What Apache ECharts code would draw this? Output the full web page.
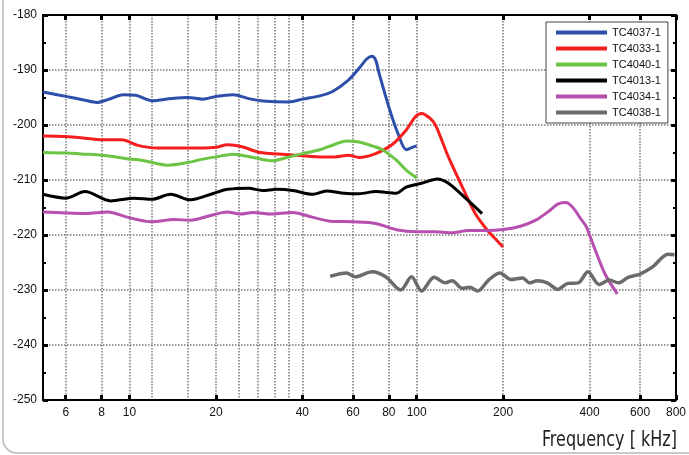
<!DOCTYPE html>
<html>
<head>
<meta charset="utf-8">
<script src="https://cdn.jsdelivr.net/npm/echarts@6/dist/echarts.min.js"></script>
<style>html,body{margin:0;padding:0;background:#fff;}#c{width:689px;height:455px;}</style>
</head>
<body>
<div id="c"></div>
<script>
// Tick values
const xMajorTicks = [6, 8, 10, 20, 40, 60, 80, 100, 200, 400, 600, 800];
const xMinorGrid = [12, 16, 24, 28, 32, 36];
const yMin = -250, yMax = -180, yStep = 10;
const xMin = 5, xMax = 800;

const seriesNames = ['TC4037-1', 'TC4033-1', 'TC4040-1', 'TC4013-1', 'TC4034-1', 'TC4038-1'];
const seriesColors = ['#2e4fa9', '#f51e1e', '#6cc444', '#000000', '#b64fae', '#6b6b6b'];

const tc4037 = [[5,-194],[6,-194.8],[7,-195.5],[7.7,-195.9],[8.5,-195.3],[9.5,-194.5],[10.5,-194.6],[12,-195.6],[14,-195.2],[16,-195.0],[18,-195.3],[20,-194.8],[23,-194.5],[26,-195.2],[30,-195.7],[36,-195.8],[40,-195.3],[46,-194.7],[51,-193.9],[58,-191.8],[63,-189.7],[67,-188.0],[70,-187.5],[72,-188.2],[74,-190.6],[80,-196.7],[86,-201.5],[92,-204.5],[96,-204.1],[100,-203.8]];
const tc4033 = [[5,-202.0],[6,-202.1],[7,-202.4],[8,-202.7],[9.4,-202.7],[10.7,-203.7],[12.5,-204.2],[16,-204.2],[19.7,-204.1],[22,-203.6],[24.5,-203.9],[28,-204.9],[31,-205.2],[36,-205.4],[46,-205.8],[52,-205.8],[58,-205.5],[63,-205.9],[72,-205.2],[82,-203.6],[92,-200.9],[99,-198.5],[104,-197.9],[112,-198.9],[117,-200.3],[129,-205.8],[144,-211.2],[160,-216.1],[176,-219.1],[188,-220.7],[200,-222.2]];
const tc4040 = [[5,-205.0],[6,-205.1],[7,-205.3],[8,-205.5],[9,-205.8],[10,-206.2],[11,-206.4],[13.6,-207.3],[16,-206.8],[18,-206.2],[20,-205.8],[23,-205.3],[27,-205.9],[31.5,-206.5],[36,-205.8],[40,-205.2],[46,-204.5],[52,-203.5],[57,-202.9],[63,-203.1],[70,-203.8],[76,-204.5],[85,-206.4],[92,-208.2],[100,-209.6]];
const tc4013 = [[5,-212.6],[6,-213.3],[7,-212.1],[8.6,-213.8],[10.4,-213.3],[12,-213.5],[13.9,-212.6],[16.3,-213.6],[19.7,-212.4],[22,-211.7],[26,-211.5],[29,-211.9],[32.6,-211.7],[37,-211.9],[43.6,-212.6],[48.5,-212.0],[56,-212.4],[63,-212.5],[72,-212.1],[85,-212.4],[92,-211.3],[104,-210.6],[118,-209.8],[129,-210.6],[148,-213.3],[169,-216.1]];
const tc4034 = [[5,-215.8],[6,-216.0],[7,-216.1],[8.4,-215.8],[9.9,-216.8],[11.9,-217.6],[14.3,-217.2],[16.3,-217.3],[19,-216.5],[21.9,-215.8],[24.3,-216.2],[27,-215.9],[31,-216.2],[37,-215.9],[43.6,-216.8],[50,-217.5],[60,-217.6],[72,-217.9],[86,-219.1],[100,-219.4],[116,-219.4],[132,-219.6],[152,-219.2],[178,-219.2],[200,-219.0],[230,-218.4],[260,-217.3],[290,-215.6],[310,-214.4],[330,-214.1],[350,-215.0],[370,-216.8],[390,-218.5],[400,-220.0],[452,-227.0],[500,-230.7]];
const tc4038 = [[50,-227.5],[57,-226.9],[61,-227.6],[70,-226.7],[78,-227.6],[88,-230.0],[96,-227.6],[104,-230.2],[115,-227.7],[126,-228.7],[133,-228.3],[144,-229.7],[153,-229.5],[163,-230.2],[178,-228.2],[195,-226.9],[213,-228.1],[234,-227.8],[247,-228.7],[263,-228.3],[285,-228.7],[310,-229.9],[336,-228.8],[365,-228.7],[395,-226.7],[432,-229.0],[469,-228.2],[505,-228.7],[545,-227.7],[600,-227.1],[663,-225.8],[750,-223.5],[790,-223.6]];
const seriesData = [tc4037, tc4033, tc4040, tc4013, tc4034, tc4038];
const seriesWidths = [3, 3, 3, 3, 3, 3.5];

const chart = echarts.init(document.getElementById('c'), null, {renderer: 'canvas'});
const gridLine = {show: true, lineStyle: {color: '#7a7a7a', width: 1.5, type: [1.5, 1.5]}};
const baseX = {type: 'log', logBase: 10, min: xMin, max: xMax};
const labelFont = 'Liberation Sans, Arial, sans-serif';
const option = {
  animation: false,
  backgroundColor: '#fff',
  grid: {left: 43, right: 10, top: 15, bottom: 55, show: true, borderColor: '#000', borderWidth: 2, containLabel: false},
  xAxis: [
    Object.assign({}, baseX, {
      position: 'bottom',
      axisLine: {show: true, onZero: false, lineStyle: {color: '#000', width: 2}},
      axisTick: {show: true, inside: true, length: 5, customValues: xMajorTicks, lineStyle: {color: '#000', width: 3}},
      axisLabel: {show: true, customValues: xMajorTicks, fontSize: 12, color: '#111', margin: 7, fontFamily: labelFont},
      splitLine: gridLine,
      minorTick: {show: false}, minorSplitLine: {show: false}
    }),
    Object.assign({}, baseX, {
      position: 'top',
      axisLine: {show: true, onZero: false, lineStyle: {color: '#000', width: 2}},
      axisTick: {show: true, inside: true, length: 5, customValues: xMajorTicks, lineStyle: {color: '#000', width: 3}},
      axisLabel: {show: false},
      splitLine: {show: false}
    }),
    Object.assign({}, baseX, {
      position: 'bottom',
      axisLine: {show: false},
      axisTick: {show: false, customValues: xMinorGrid},
      axisLabel: {show: false},
      splitLine: gridLine
    })
  ],
  yAxis: [
    {
      type: 'value', min: yMin, max: yMax, interval: yStep, position: 'left',
      axisLine: {show: true, onZero: false, lineStyle: {color: '#000', width: 2}},
      axisTick: {show: true, inside: true, length: 5, lineStyle: {color: '#000', width: 3}},
      minorTick: {show: true, splitNumber: 2, length: 3, lineStyle: {color: '#000', width: 2}},
      axisLabel: {fontSize: 12, color: '#111', margin: 6, fontFamily: labelFont},
      splitLine: gridLine
    },
    {
      type: 'value', min: yMin, max: yMax, interval: yStep, position: 'right',
      axisLine: {show: true, onZero: false, lineStyle: {color: '#000', width: 2}},
      axisTick: {show: true, inside: true, length: 5, lineStyle: {color: '#000', width: 3}},
      minorTick: {show: true, splitNumber: 2, length: 3, lineStyle: {color: '#000', width: 2}},
      axisLabel: {show: false},
      splitLine: {show: false}
    }
  ],
  legend: {
    orient: 'vertical', left: 546, top: 22,
    padding: [5, 7, 5, 10], itemGap: 5, itemWidth: 51, itemHeight: 4, icon: 'rect',
    backgroundColor: '#fff', borderColor: '#444', borderWidth: 1, borderRadius: 0,
    textStyle: {fontSize: 11, color: '#111', fontFamily: labelFont},
    data: seriesNames
  },
  graphic: [
    {type: 'rect', silent: true, z: -1, shape: {x: 3, y: -40, width: 800, height: 493, r: 14}, style: {fill: 'none', stroke: '#b8b8b8', lineWidth: 1.5}},
    {type: 'text', x: 677, y: 440, scaleX: 0.81, originX: 0, originY: 0,
     style: {text: 'Frequency [ kHz]', fontSize: 22, fill: '#222', align: 'right', verticalAlign: 'middle', fontFamily: 'DejaVu Sans Condensed, DejaVu Sans, sans-serif'}}
  ],
  series: seriesNames.map((n, i) => ({
    name: n, type: 'line', xAxisIndex: 0, yAxisIndex: 0,
    data: seriesData[i], smooth: 0.3, showSymbol: false, symbol: 'none',
    lineStyle: {color: seriesColors[i], width: seriesWidths[i]}, itemStyle: {color: seriesColors[i]},
    z: 3
  }))
};
chart.setOption(option);
</script>
</body>
</html>
